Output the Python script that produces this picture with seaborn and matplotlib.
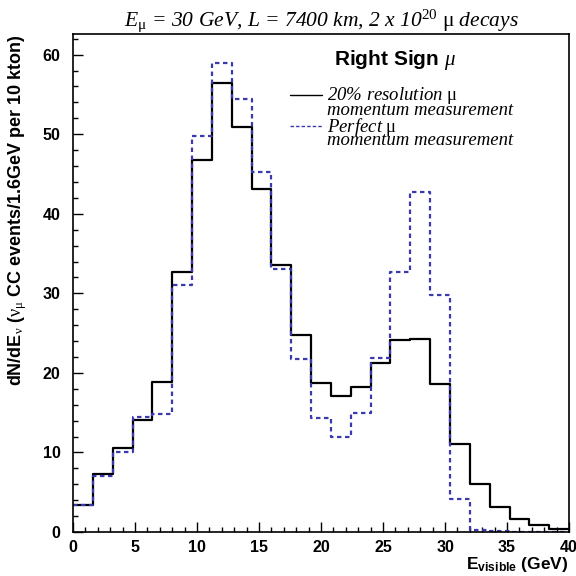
import numpy as np
import pandas as pd
import matplotlib
matplotlib.use("Agg")
import matplotlib.pyplot as plt
import seaborn as sns

# ---- data ----
bin_edges = [round(0.0 + 1.6 * i, 2) for i in range(26)]
res20 = [3.4, 7.3, 10.5, 14.1, 18.8, 32.7, 46.8, 56.4, 50.9, 43.1, 33.6, 24.8,
         18.7, 17.1, 18.2, 21.2, 24.1, 24.3, 18.6, 11.0, 6.0, 3.1, 1.6, 0.85, 0.4]
perfect = [3.4, 7.1, 10.0, 14.5, 14.8, 31.1, 49.8, 58.9, 54.4, 45.3, 33.0, 21.8,
           14.3, 12.0, 15.0, 21.9, 32.7, 42.7, 29.8, 4.15, 0.3, 0.1, 0.05, 0.0, 0.0]
labels = ["20% resolution $\\mathrm{\\mu}$", "Perfect $\\mathrm{\\mu}$"]
title = "$E_{\\mathrm{\\mu}}$ = 30 GeV, L = 7400 km, 2 x 10$^{20}$ $\\mathrm{\\mu}$ decays"

edges = np.array(bin_edges)
centers = (edges[:-1] + edges[1:]) / 2
df = pd.DataFrame({
    "E": np.concatenate([centers, centers]),
    "w": np.concatenate([res20, perfect]),
    "series": [labels[0]] * len(centers) + [labels[1]] * len(centers),
})

sns.set_theme(style="white")
plt.rcParams["font.family"] = ["Liberation Sans", "DejaVu Sans"]
plt.rcParams["mathtext.fontset"] = "custom"
plt.rcParams["mathtext.rm"] = "Liberation Serif"
plt.rcParams["mathtext.it"] = "Liberation Serif:italic"
plt.rcParams["mathtext.bf"] = "Liberation Sans:bold"
plt.rcParams["mathtext.sf"] = "Liberation Sans"
for k in ["text.color", "axes.labelcolor", "xtick.color", "ytick.color",
          "xtick.labelcolor", "ytick.labelcolor", "axes.edgecolor"]:
    plt.rcParams[k] = "black"

fig = plt.figure(figsize=(5.76, 5.76), dpi=100)
ax = fig.add_axes([0.1267, 0.0764, 0.8613, 0.8646])

black = "#000000"
blue = "#3a3aae"
sns.histplot(data=df[df.series == labels[0]], x="E", weights="w", bins=bin_edges,
             element="step", fill=False, color=black, linewidth=1.6, ax=ax)
sns.histplot(data=df[df.series == labels[1]], x="E", weights="w", bins=bin_edges,
             element="step", fill=False, color=blue, linewidth=1.6,
             linestyle=(0, (2.0, 1.6)), ax=ax)

ax.set_xlim(0, 40)
ax.set_ylim(0, 62.6)
ax.set_xticks([0, 5, 10, 15, 20, 25, 30, 35, 40])
ax.set_yticks([0, 10, 20, 30, 40, 50, 60])
ax.set_xticks(np.arange(0, 41, 1), minor=True)
ax.set_yticks(np.arange(0, 63, 2), minor=True)
ax.tick_params(axis="both", which="major", direction="in", length=7.5, width=1,
               labelsize=11.5, color="black", labelcolor="black")
ax.tick_params(axis="x", which="major", pad=6)
ax.tick_params(axis="y", which="major", pad=9)
ax.tick_params(axis="both", which="minor", direction="in", length=3.8, width=1,
               color="black")
ax.tick_params(top=False, right=False, which="both", bottom=True, left=True)
for lab in ax.get_xticklabels() + ax.get_yticklabels():
    lab.set_fontweight("bold")
for s in ax.spines.values():
    s.set_color("black")
    s.set_linewidth(1.2)

ax.set_ylabel("dN/dE$_{\\mathrm{\\nu}}$ ($\\mathrm{\\nu}_{\\mathrm{\\mu}}$ CC events/1.6GeV per 10 kton)",
              fontsize=13, fontweight="bold", loc="top", color="black")
ax.yaxis.set_label_coords(-0.111, 1.0)
ax.yaxis.label.set_verticalalignment("center")
ax.set_xlabel("E$_{\\mathbf{visible}}$ (GeV)", fontsize=12.5, fontweight="bold",
              color="black")
ax.xaxis.set_label_coords(0.998, -0.066)
ax.xaxis.label.set_horizontalalignment("right")
ax.xaxis.label.set_verticalalignment("center")

ax.set_title(title, fontsize=15.5, family="Liberation Serif", style="italic", pad=3,
             color="black")

ax.text(0.65, 0.948, "Right Sign $\\mathit{\\mu}$", transform=ax.transAxes,
        fontsize=15, fontweight="bold", ha="center", va="center", color="black")

# legend
lx0, lx1, tx = 0.437, 0.502, 0.513
ax.plot([lx0, lx1], [0.877, 0.877], transform=ax.transAxes, color=black, lw=1.0)
ax.plot([lx0, lx1], [0.815, 0.815], transform=ax.transAxes, color=blue, lw=1.0,
        linestyle=(0, (2.5, 1.5)))
lines = [(0.876, labels[0]), (0.847, "momentum measurement"),
         (0.813, labels[1]), (0.787, "momentum measurement")]
for yy, t in lines:
    ax.text(tx, yy, t, transform=ax.transAxes, fontsize=13.5,
            family="Liberation Serif", style="italic", ha="left", va="center",
            color="black")

ax.set_facecolor("white")
fig.patch.set_facecolor("white")
fig.savefig("out.png", dpi=100)
